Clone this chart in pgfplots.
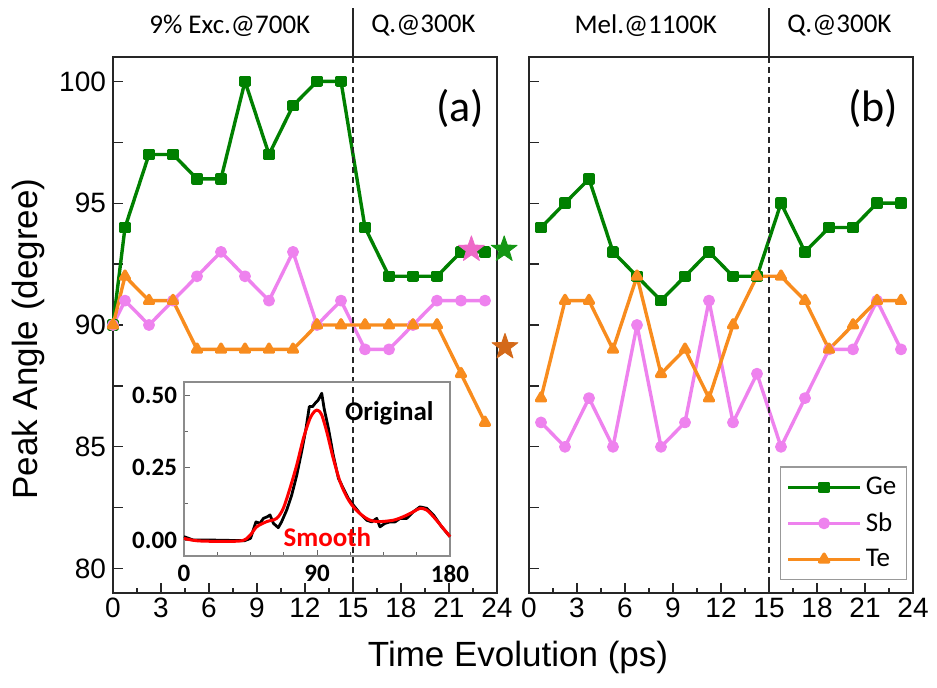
\documentclass[border=0pt]{standalone}
\usepackage{fontspec}
\setmainfont{Liberation Sans}
\newfontfamily\cali{Carlito}
\usepackage{pgfplots}
\pgfplotsset{compat=1.18}

\definecolor{cGe}{RGB}{0,128,0}
\definecolor{cSb}{RGB}{238,130,238}
\definecolor{cTe}{RGB}{248,140,30}
\definecolor{sGe}{RGB}{20,150,20}
\definecolor{sSb}{RGB}{238,105,200}
\definecolor{sTe}{RGB}{212,105,25}

% filled five-pointed star
\pgfdeclareplotmark{fstar}{%
  \pgfpathmoveto{\pgfpointpolar{90}{\pgfplotmarksize}}%
  \pgfpathlineto{\pgfpointpolar{126}{0.4\pgfplotmarksize}}%
  \pgfpathlineto{\pgfpointpolar{162}{\pgfplotmarksize}}%
  \pgfpathlineto{\pgfpointpolar{198}{0.4\pgfplotmarksize}}%
  \pgfpathlineto{\pgfpointpolar{234}{\pgfplotmarksize}}%
  \pgfpathlineto{\pgfpointpolar{270}{0.4\pgfplotmarksize}}%
  \pgfpathlineto{\pgfpointpolar{306}{\pgfplotmarksize}}%
  \pgfpathlineto{\pgfpointpolar{342}{0.4\pgfplotmarksize}}%
  \pgfpathlineto{\pgfpointpolar{18}{\pgfplotmarksize}}%
  \pgfpathlineto{\pgfpointpolar{54}{0.4\pgfplotmarksize}}%
  \pgfpathclose
  \pgfusepathqfillstroke}

\pgfplotsset{
  panel/.style={
    scale only axis, width=192pt, height=268pt, anchor=south west,
    xmin=0, xmax=24, ymin=79, ymax=101,
    xtick={0,3,6,9,12,15,18,21,24},
    minor xtick={1.5,4.5,7.5,10.5,13.5,16.5,19.5,22.5},
    ytick={80,82.5,85,87.5,90,92.5,95,97.5,100},
    tick align=inside, xtick pos=bottom, ytick pos=left,
    major tick length=5pt, minor tick length=2.5pt,
    tick style={black!85, line width=0.6pt},
    axis line style={black!85, line width=0.6pt},
    ticklabel style={font=\fontsize{14}{16}\selectfont},
    /pgf/number format/assume math mode=true,
    xticklabel style={yshift=1pt},
    clip=false,
    every axis plot/.append style={line width=1.7pt, line join=round},
  },
  ge/.style={cGe, mark=square*, mark size=2pt, mark options={solid, fill=cGe}},
  sb/.style={cSb, mark=*, mark size=2.1pt, mark options={solid, fill=cSb}},
  te/.style={cTe, mark=triangle*, mark size=2.6pt, mark options={solid, fill=cTe}},
}

\begin{document}
\begin{tikzpicture}
\path[use as bounding box] (0,0) rectangle (468.5pt,343.5pt);

% ---------- panel (a)
\begin{axis}[panel, at={(56.5pt,47pt)},
    yticklabels={80,,85,,90,,95,,100}]
\addplot[ge] coordinates {
  (0,90) (0.75,94) (2.25,97) (3.75,97) (5.25,96) (6.75,96) (8.25,100) (9.75,97)
  (11.25,99) (12.75,100) (14.25,100) (15.75,94) (17.25,92) (18.75,92) (20.25,92)
  (21.75,93) (23.25,93)};
\addplot[sb] coordinates {
  (0,90) (0.75,91) (2.25,90) (3.75,91) (5.25,92) (6.75,93) (8.25,92) (9.75,91)
  (11.25,93) (12.75,90) (14.25,91) (15.75,89) (17.25,89) (18.75,90) (20.25,91)
  (21.75,91) (23.25,91)};
\addplot[te] coordinates {
  (0,90) (0.75,92) (2.25,91) (3.75,91) (5.25,89) (6.75,89) (8.25,89) (9.75,89)
  (11.25,89) (12.75,90) (14.25,90) (15.75,90) (17.25,90) (18.75,90) (20.25,90)
  (21.75,88) (23.25,86)};
% reference stars
\addplot[only marks, mark=fstar, mark size=6.8pt, draw=sSb, fill=sSb, line width=0.4pt] coordinates {(22.4,93.1)};
\addplot[only marks, mark=fstar, mark size=6.8pt, draw=sGe, fill=sGe, line width=0.4pt] coordinates {(24.45,93.1)};
\addplot[only marks, mark=fstar, mark size=6.8pt, draw=sTe, fill=sTe, line width=0.4pt] coordinates {(24.5,89.1)};

\draw[black!85, line width=0.6pt, dash pattern=on 3pt off 2pt] (axis cs:15,79) -- (axis cs:15,101);
\draw[black!85, line width=0.6pt] (axis cs:15,101) -- (axis cs:15,103.0);
\node[font=\cali\fontsize{13.5}{15}\selectfont] at (axis cs:7.3,102.3) {9\% Exc.@700K};
\node[font=\cali\fontsize{13.5}{15}\selectfont] at (axis cs:19.4,102.3) {Q.@300K};
\node[font=\cali\fontsize{22}{24}\selectfont] at (axis cs:21.7,98.9) {(a)};
\end{axis}

% ---------- inset
\begin{axis}[scale only axis, width=133pt, height=87pt, anchor=south west,
    at={(92pt,65.5pt)},
    xmin=0, xmax=180, ymin=-0.055, ymax=0.547,
    xtick={0,90,180}, minor x tick num=3,
    ytick={0,0.25,0.5}, minor y tick num=1,
    tick align=inside, xtick pos=bottom, ytick pos=left,
    major tick length=3pt, minor tick length=2pt,
    tick style={black!60, line width=0.5pt},
    axis line style={black!45, line width=0.6pt},
    ticklabel style={font=\cali\bfseries\fontsize{12.5}{14}\selectfont},
    /pgf/number format/assume math mode=true,
    yticklabel={\pgfmathprintnumber[fixed, fixed zerofill, precision=2]{\tick}},
    xticklabel style={yshift=-1pt},
    clip=false]
\addplot[black, line width=1.4pt, line join=round] coordinates {
  (0,0.012) (6.3,0) (20,0) (41,-0.002) (45,0.006) (48.7,0.063) (51.4,0.058)
  (53.7,0.075) (56.4,0.081) (58.2,0.087) (60.5,0.058) (63.8,0.043) (66,0.063)
  (69.5,0.104) (72.9,0.156) (76.3,0.225) (79.6,0.306) (82.6,0.387) (84.8,0.462)
  (87,0.462) (88.7,0.473) (90.9,0.485) (93.2,0.508) (94.8,0.456) (97.7,0.387)
  (101,0.294) (104.5,0.214) (107.8,0.179) (111.2,0.144) (114.6,0.121)
  (119.1,0.092) (123.6,0.069) (127,0.063) (130.4,0.075) (132.6,0.046)
  (136,0.058) (139.4,0.063) (142.8,0.063) (146.2,0.075) (150.7,0.075)
  (155.2,0.098) (159.7,0.115) (164.2,0.110) (168.8,0.087) (174.4,0.046) (180,0.012)};
\addplot[red, line width=1.5pt, smooth, tension=0.5] coordinates {
  (0,0.006) (10.8,-0.003) (37.9,-0.003) (44.7,0.017) (49.2,0.046) (56,0.064)
  (62.7,0.075) (67.2,0.110) (71.7,0.179) (76.3,0.26) (80.8,0.352) (85.3,0.421)
  (88.7,0.447) (90.9,0.448) (93.2,0.433) (96.6,0.375) (101,0.283) (105.6,0.202)
  (110.1,0.150) (114.6,0.115) (120.2,0.087) (125.9,0.069) (132.6,0.064)
  (141.7,0.069) (148.4,0.081) (155.2,0.098) (159.7,0.110) (164.2,0.104)
  (168.8,0.081) (175.5,0.040) (180,0.012)};
\node[font=\cali\bfseries\fontsize{13.5}{16}\selectfont] at (axis cs:139,0.44) {Original};
\node[font=\cali\bfseries\fontsize{13.5}{16}\selectfont, text=red] at (axis cs:97,0.012) {Smooth};
\end{axis}

% ---------- panel (b)
\begin{axis}[panel, at={(264.5pt,47pt)},
    yticklabels={},
    legend style={at={(0.984,0.024)}, anchor=south east, draw=black!40,
      line width=0.6pt, fill=white,
      font=\cali\fontsize{13.5}{16}\selectfont, row sep=3.5pt, inner sep=3pt},
    legend cell align=left,
    legend image code/.code={%
      \draw[mark repeat=2, mark phase=2] plot coordinates {(0pt,0pt) (18pt,0pt) (36pt,0pt)};}]
\addplot[ge] coordinates {
  (0.75,94) (2.25,95) (3.75,96) (5.25,93) (6.75,92) (8.25,91) (9.75,92) (11.25,93)
  (12.75,92) (14.25,92) (15.75,95) (17.25,93) (18.75,94) (20.25,94) (21.75,95) (23.25,95)};
\addlegendentry{Ge}
\addplot[sb] coordinates {
  (0.75,86) (2.25,85) (3.75,87) (5.25,85) (6.75,90) (8.25,85) (9.75,86) (11.25,91)
  (12.75,86) (14.25,88) (15.75,85) (17.25,87) (18.75,89) (20.25,89) (21.75,91) (23.25,89)};
\addlegendentry{Sb}
\addplot[te] coordinates {
  (0.75,87) (2.25,91) (3.75,91) (5.25,89) (6.75,92) (8.25,88) (9.75,89) (11.25,87)
  (12.75,90) (14.25,92) (15.75,92) (17.25,91) (18.75,89) (20.25,90) (21.75,91) (23.25,91)};
\addlegendentry{Te}
\draw[black!85, line width=0.6pt, dash pattern=on 3pt off 2pt] (axis cs:15,79) -- (axis cs:15,101);
\draw[black!85, line width=0.6pt] (axis cs:15,101) -- (axis cs:15,103.0);
\node[font=\cali\fontsize{13.5}{15}\selectfont] at (axis cs:7.3,102.3) {Mel.@1100K};
\node[font=\cali\fontsize{13.5}{15}\selectfont] at (axis cs:19.4,102.3) {Q.@300K};
\node[font=\cali\fontsize{22}{24}\selectfont] at (axis cs:21.5,98.9) {(b)};
\end{axis}

% ---------- shared labels
\node[font=\fontsize{17.5}{20}\selectfont] at (259pt,15pt) {Time Evolution (ps)};
\node[font=\fontsize{17.5}{20}\selectfont, rotate=90] at (14pt,174pt) {Peak Angle (degree)};
\end{tikzpicture}
\end{document}
